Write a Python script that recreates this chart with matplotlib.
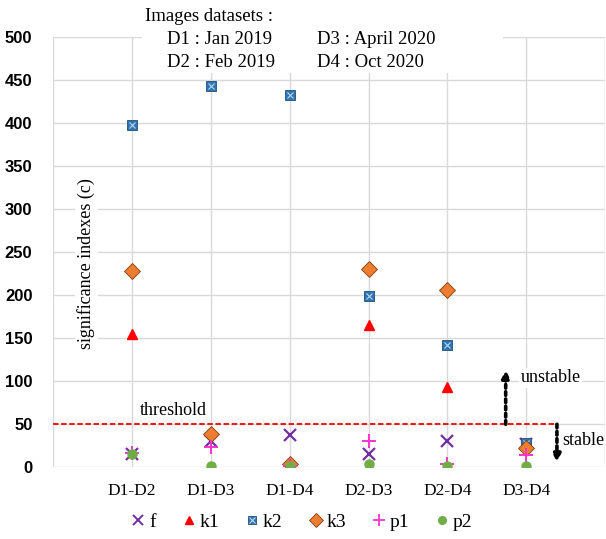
import matplotlib
matplotlib.use("Agg")
import matplotlib.pyplot as plt
from matplotlib.legend_handler import HandlerTuple
from matplotlib.lines import Line2D
from matplotlib.patches import Rectangle

categories = ["D1-D2", "D1-D3", "D1-D4", "D2-D3", "D2-D4", "D3-D4"]
f_vals  = [15, 30, 37, 16, 30, 27]
k1_vals = [155, None, None, 165, 93, None]
k2_vals = [398, 443, 432, 199, 142, 28]
k3_vals = [228, 39, 4, 230, 206, 22]
p1_vals = [17, 23, 1, 31, 4, 14]
p2_vals = [15, 2, 2, 4, 1, 2]
threshold = 50
yticks = [0, 50, 100, 150, 200, 250, 300, 350, 400, 450, 500]

serif = "Liberation Serif"

fig = plt.figure(figsize=(6.06, 5.39), dpi=100)
ax = fig.add_axes([53.3/606, 1-467.3/539, (605-53.3)/606, (467.3-36.7)/539])

x = list(range(1, len(categories)+1))

def pts(vals):
    xs = [xi for xi, v in zip(x, vals) if v is not None]
    ys = [v for v in vals if v is not None]
    return xs, ys

ax.plot(*pts(f_vals), ls="none", marker="x", ms=8, mew=1.6, color="#7030A0", zorder=3)
ax.plot(*pts(k1_vals), ls="none", marker="^", ms=7, color="#FF0000", mec="#FF0000", zorder=3)
ax.plot(*pts(k2_vals), ls="none", marker="s", ms=7, color="#2E75B6", mec="#1F4E79", mew=0.6, zorder=3)
ax.plot(*pts(k2_vals), ls="none", marker="x", ms=5, mew=0.8, color="#BDD7EE", zorder=3)
ax.plot(*pts(k3_vals), ls="none", marker="D", ms=8, color="#ED7D31", mec="#843C0C", mew=0.6, zorder=3)
ax.plot(*pts(p1_vals), ls="none", marker="+", ms=10, mew=1.4, color="#FF33CC", zorder=3)
ax.plot(*pts(p2_vals), ls="none", marker="o", ms=6.5, color="#70AD47", mec="#70AD47", zorder=3)

ax.set_xlim(0, 7)
ax.set_ylim(0, 500)
ax.set_xticks(range(0, 8))
ax.set_xticklabels([""] + categories + [""], fontfamily=serif, fontsize=12.5)
ax.set_yticks(yticks)
ax.set_yticklabels([str(t) for t in yticks], fontfamily="Liberation Sans", fontweight="bold", fontsize=12)
ax.tick_params(axis="both", length=0)
ax.tick_params(axis="y", pad=15)
ax.tick_params(axis="x", pad=11)
for s in ax.spines.values():
    s.set_visible(False)
ax.grid(True, color="#D9D9D9", lw=1)
ax.set_axisbelow(True)

# threshold
ax.plot([0, 6.37], [threshold, threshold], color="#FF0000", ls=(0, (3, 1.5)), lw=1.3, zorder=2)
ax.text(1.1, 56, "threshold", fontfamily=serif, fontsize=13, ha="left", va="bottom", zorder=4)

# arrows
arrow_kw = dict(arrowstyle="-|>", ls=(0, (1, 1)), lw=2.6, color="black", mutation_scale=11, shrinkA=0, shrinkB=0)
ax.annotate("", xy=(5.74, 113), xytext=(5.74, threshold), arrowprops=arrow_kw, zorder=4)
ax.annotate("", xy=(6.39, 6), xytext=(6.39, threshold), arrowprops=arrow_kw, zorder=4)
ax.text(5.93, 104, "unstable", fontfamily=serif, fontsize=13, ha="left", va="center", zorder=4,
        bbox=dict(facecolor="white", edgecolor="none", pad=1))
ax.text(6.46, 31, "stable", fontfamily=serif, fontsize=13, ha="left", va="center", zorder=4)

# y label inside plot
ax.text(0.42, 237, "significance indexes (c)", rotation=90, fontfamily=serif, fontsize=13,
        ha="center", va="center", zorder=4, bbox=dict(facecolor="white", edgecolor="none", pad=2))

# dataset note (white box over grid, under markers)
ax.add_patch(Rectangle((142/606, 1-73/539), (503-142)/606, 73/539, transform=fig.transFigure,
                       facecolor="white", edgecolor="none", zorder=2.5, clip_on=False))
note_kw = dict(fontfamily=serif, fontsize=13.5, ha="left", va="baseline", zorder=2.6, transform=fig.transFigure)
ax.text(145/606, 1-21/539, "Images datasets :", **note_kw)
ax.text(167/606, 1-44/539, "D1 : Jan 2019", **note_kw)
ax.text(317/606, 1-44/539, "D3 : April 2020", **note_kw)
ax.text(167/606, 1-67/539, "D2 : Feb 2019", **note_kw)
ax.text(317/606, 1-67/539, "D4 : Oct 2020", **note_kw)

# legend
h_f = Line2D([], [], ls="none", marker="x", ms=6.5, mew=1.4, color="#7030A0")
h_k1 = Line2D([], [], ls="none", marker="^", ms=6, color="#FF0000")
h_k2a = Line2D([], [], ls="none", marker="s", ms=6, color="#2E75B6", mec="#1F4E79", mew=0.6)
h_k2b = Line2D([], [], ls="none", marker="x", ms=4, mew=0.8, color="#BDD7EE")
h_k3 = Line2D([], [], ls="none", marker="D", ms=7, color="#ED7D31", mec="#843C0C", mew=0.6)
h_p1 = Line2D([], [], ls="none", marker="+", ms=9, mew=1.3, color="#FF33CC")
h_p2 = Line2D([], [], ls="none", marker="o", ms=5.5, color="#70AD47")
fig.legend([h_f, h_k1, (h_k2a, h_k2b), h_k3, h_p1, h_p2], ["f", "k1", "k2", "k3", "p1", "p2"],
           handler_map={tuple: HandlerTuple(ndivide=1, pad=0)},
           loc="center", bbox_to_anchor=(303/606, 1-522/539), ncol=6, frameon=False,
           prop={"family": serif, "size": 14}, handlelength=0.5, handletextpad=0.3, columnspacing=1.45)

fig.savefig("out.png", dpi=100)
